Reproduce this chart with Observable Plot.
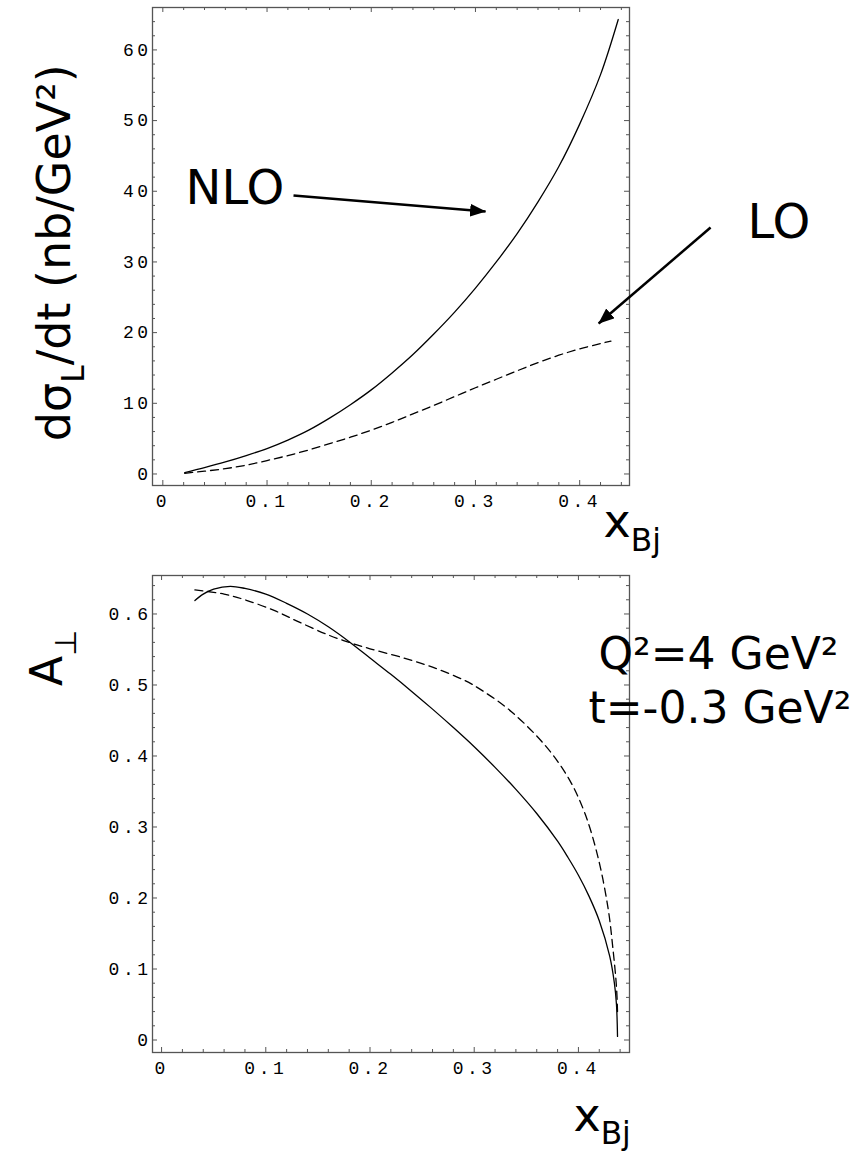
<!DOCTYPE html>
<html>
<head>
<meta charset="utf-8">
<script src="https://cdn.jsdelivr.net/npm/d3@7"></script>
<script src="https://cdn.jsdelivr.net/npm/@observablehq/plot@0.6"></script>
<style>
  body { margin: 0; background: #fff; }
  #chart { width: 865px; }
  #chart svg { display: block; }
  g[aria-label="x-axis tick label"], g[aria-label="y-axis tick label"] { letter-spacing: 3.5px; }
</style>
</head>
<body>
<div id="chart"></div>
<script>
// ---------- DATA ----------
// Upper panel: dσ_L/dt (nb/GeV²) vs x_Bj
const xTopNLO = [0.021,0.04,0.06,0.08,0.10,0.12,0.14,0.16,0.18,0.20,0.22,0.24,0.26,0.28,0.30,0.32,0.34,0.36,0.38,0.40,0.42,0.437];
const nloTop  = [0.2,0.9,1.7,2.6,3.6,4.8,6.2,7.9,9.8,11.9,14.3,16.9,19.8,22.9,26.3,30.0,34.0,38.5,43.5,49.5,56.5,64.3];
const xTopLO  = [0.021,0.04,0.06,0.08,0.10,0.12,0.14,0.16,0.18,0.20,0.22,0.24,0.26,0.28,0.30,0.32,0.34,0.36,0.38,0.40,0.42,0.43];
const loTop   = [0.1,0.4,0.75,1.25,1.9,2.6,3.4,4.3,5.2,6.2,7.3,8.5,9.7,10.95,12.2,13.4,14.6,15.75,16.8,17.7,18.45,18.8];

// Lower panel: A_⊥ vs x_Bj
const xBotNLO = [0.032,0.04,0.05,0.066,0.08,0.10,0.12,0.14,0.16,0.18,0.20,0.22,0.24,0.26,0.28,0.30,0.32,0.34,0.36,0.38,0.39,0.40,0.41,0.42,0.43,0.4345,0.4365,0.4375];
const nloBot  = [0.619,0.628,0.635,0.639,0.636,0.628,0.615,0.600,0.582,0.561,0.538,0.515,0.491,0.466,0.440,0.413,0.384,0.353,0.319,0.280,0.257,0.232,0.203,0.168,0.118,0.080,0.050,0.005];
const xBotLO  = [0.032,0.06,0.08,0.108,0.13,0.159,0.18,0.20,0.23,0.26,0.29,0.31,0.336,0.368,0.39,0.406,0.419,0.4285,0.433,0.4365,0.4375];
const loBot   = [0.634,0.628,0.620,0.605,0.590,0.571,0.560,0.551,0.539,0.525,0.507,0.490,0.462,0.415,0.370,0.320,0.256,0.185,0.130,0.075,0.04];

// Ticks
const xTicks = [0, 0.1, 0.2, 0.3, 0.4];
const xTickLabels = ["0", "0.1", "0.2", "0.3", "0.4"];
const yTopTicks = [0, 10, 20, 30, 40, 50, 60];
const yTopTickLabels = ["0", "10", "20", "30", "40", "50", "60"];
const yBotTicks = [0, 0.1, 0.2, 0.3, 0.4, 0.5, 0.6];
const yBotTickLabels = ["0", "0.1", "0.2", "0.3", "0.4", "0.5", "0.6"];

// Annotation texts (anchored in data coordinates)
const topTexts = [
  {text: "NLO", x: 0.0218, y: 38.26},
  {text: "LO",  x: 0.561,  y: 33.45}
];
const topArrows = [
  {x1: 0.1254, y1: 39.40, x2: 0.3097, y2: 37.13},
  {x1: 0.5256, y1: 34.87, x2: 0.4182, y2: 21.29}
];
const topYLabel = [{text: "dσ_{L}/dt (nb/GeV²)", x: -0.0886, y: 31.3}];
const topXLabel = [{text: "x_{Bj}", x: 0.4229, y: -8.98}];
const botYLabel = [{text: "A_{⊥}", x: -0.0952, y: 0.538}];
const botXLabel = [{text: "x_{Bj}", x: 0.3952, y: -0.1275}];
const botTexts = [
  {text: "Q²=4 GeV²",   x: 0.4192, y: 0.5232},
  {text: "t=-0.3 GeV²", x: 0.4096, y: 0.4458}
];

// ---------- HELPERS ----------
const fontText = "'DejaVu Sans', sans-serif";
const fontMono = "'Liberation Mono', 'DejaVu Sans Mono', monospace";
const frameColor = "#555";
const pts = (xs, ys) => xs.map((x, i) => ({x, y: ys[i]}));
const minorOf = (n, step, skip) => d3.range(1, n + 1).filter(i => i % skip !== 0).map(i => +(i * step).toFixed(4));

function tickMarks(xMaj, xMin, yMaj, yMin, fw, fh) {
  const st = {stroke: frameColor, strokeWidth: 1};
  const major = 5, minor = 3;
  return [
    Plot.ruleX(xMaj, {x: d => d, insetTop: fh - major, ...st}),
    Plot.ruleX(xMaj, {x: d => d, insetBottom: fh - major, ...st}),
    Plot.ruleX(xMin, {x: d => d, insetTop: fh - minor, ...st}),
    Plot.ruleX(xMin, {x: d => d, insetBottom: fh - minor, ...st}),
    Plot.ruleY(yMaj, {y: d => d, insetRight: fw - major, ...st}),
    Plot.ruleY(yMaj, {y: d => d, insetLeft: fw - major, ...st}),
    Plot.ruleY(yMin, {y: d => d, insetRight: fw - minor, ...st}),
    Plot.ruleY(yMin, {y: d => d, insetLeft: fw - minor, ...st})
  ];
}

function richText(svg) {
  svg.querySelectorAll("text").forEach(el => {
    const t = el.textContent;
    if (!t.includes("_{")) return;
    const fs = parseFloat(getComputedStyle(el).fontSize);
    const parts = t.split(/_\{([^}]*)\}/);
    el.textContent = "";
    let shift = 0;
    parts.forEach((p, i) => {
      if (p === "") return;
      const isSub = i % 2 === 1;
      const ts = document.createElementNS("http://www.w3.org/2000/svg", "tspan");
      const target = isSub ? 0.3 * fs : 0;
      if (target - shift) ts.setAttribute("dy", target - shift);
      if (isSub) ts.setAttribute("font-size", 0.68 * fs);
      ts.textContent = p;
      el.appendChild(ts);
      shift = target;
    });
  });
}

function addArrowheads(svg, id) {
  const s = d3.select(svg);
  const defs = s.append("defs");
  defs.append("marker")
    .attr("id", id).attr("viewBox", "0 0 16 13")
    .attr("refX", 15.5).attr("refY", 6.5)
    .attr("markerWidth", 16).attr("markerHeight", 13)
    .attr("markerUnits", "userSpaceOnUse").attr("orient", "auto")
    .append("path").attr("d", "M0,0L16,6.5L0,13Z").attr("fill", "black");
  s.selectAll('g[aria-label="link"] path').attr("marker-end", `url(#${id})`);
}

const lab = (ticks, labels) => d => labels[ticks.indexOf(d)];

// ---------- TOP PANEL ----------
const W = 865;
const T = {h: 560, mt: 7, mb: 75, ml: 152, mr: 236};
const tfw = W - T.ml - T.mr, tfh = T.h - T.mt - T.mb;
const topPlot = Plot.plot({
  width: W, height: T.h,
  marginTop: T.mt, marginBottom: T.mb, marginLeft: T.ml, marginRight: T.mr,
  x: {domain: [-0.0099, 0.4478], label: null},
  y: {domain: [-1.63, 66.0], label: null},
  style: {background: "white", color: "black", overflow: "visible"},
  marks: [
    Plot.frame({stroke: frameColor, strokeWidth: 1.3}),
    ...tickMarks(xTicks, minorOf(22, 0.02, 5), yTopTicks, minorOf(32, 2, 5), tfw, tfh),
    Plot.line(pts(xTopLO, loTop), {x: "x", y: "y", stroke: "black", strokeWidth: 1.3, strokeDasharray: "8,5", curve: "catmull-rom"}),
    Plot.line(pts(xTopNLO, nloTop), {x: "x", y: "y", stroke: "black", strokeWidth: 1.3, curve: "catmull-rom"}),
    Plot.axisX(xTicks, {anchor: "bottom", tickSize: 0, tickPadding: 9, tickFormat: lab(xTicks, xTickLabels), fontFamily: fontMono, fontSize: 18, label: null}),
    Plot.axisY(yTopTicks, {anchor: "left", tickSize: 0, tickPadding: 1, tickFormat: lab(yTopTicks, yTopTickLabels), fontFamily: fontMono, fontSize: 18, label: null}),
    Plot.link(topArrows, {x1: "x1", y1: "y1", x2: "x2", y2: "y2", stroke: "black", strokeWidth: 2.5}),
    Plot.text(topTexts, {x: "x", y: "y", text: "text", textAnchor: "start", lineAnchor: "bottom", fontFamily: fontText, fontSize: 48}),
    Plot.text(topYLabel, {x: "x", y: "y", text: "text", rotate: -90, textAnchor: "middle", lineAnchor: "bottom", fontFamily: fontText, fontSize: 46}),
    Plot.text(topXLabel, {x: "x", y: "y", text: "text", textAnchor: "start", lineAnchor: "bottom", fontFamily: fontText, fontSize: 46})
  ]
});

// ---------- BOTTOM PANEL ----------
const B = {h: 592, mt: 15, mb: 100, ml: 152, mr: 236};
const bfw = W - B.ml - B.mr, bfh = B.h - B.mt - B.mb;
const botPlot = Plot.plot({
  width: W, height: B.h,
  marginTop: B.mt, marginBottom: B.mb, marginLeft: B.ml, marginRight: B.mr,
  x: {domain: [-0.0087, 0.4490], label: null},
  y: {domain: [-0.0176, 0.6542], label: null},
  style: {background: "white", color: "black", overflow: "visible"},
  marks: [
    Plot.frame({stroke: frameColor, strokeWidth: 1.3}),
    ...tickMarks(xTicks, minorOf(22, 0.02, 5), yBotTicks, minorOf(32, 0.02, 5), bfw, bfh),
    Plot.line(pts(xBotLO, loBot), {x: "x", y: "y", stroke: "black", strokeWidth: 1.3, strokeDasharray: "8,5", curve: "catmull-rom"}),
    Plot.line(pts(xBotNLO, nloBot), {x: "x", y: "y", stroke: "black", strokeWidth: 1.3, curve: "catmull-rom"}),
    Plot.axisX(xTicks, {anchor: "bottom", tickSize: 0, tickPadding: 9, tickFormat: lab(xTicks, xTickLabels), fontFamily: fontMono, fontSize: 18, label: null}),
    Plot.axisY(yBotTicks, {anchor: "left", tickSize: 0, tickPadding: 1, tickFormat: lab(yBotTicks, yBotTickLabels), fontFamily: fontMono, fontSize: 18, label: null}),
    Plot.text(botTexts, {x: "x", y: "y", text: "text", textAnchor: "start", lineAnchor: "bottom", fontFamily: fontText, fontSize: 44}),
    Plot.text(botYLabel, {x: "x", y: "y", text: "text", rotate: -90, textAnchor: "middle", lineAnchor: "bottom", fontFamily: fontText, fontSize: 44}),
    Plot.text(botXLabel, {x: "x", y: "y", text: "text", textAnchor: "start", lineAnchor: "bottom", fontFamily: fontText, fontSize: 46})
  ]
});

const chart = document.getElementById("chart");
chart.appendChild(topPlot);
chart.appendChild(botPlot);
richText(topPlot);
richText(botPlot);
addArrowheads(topPlot, "arrowhead-top");
</script>
</body>
</html>
